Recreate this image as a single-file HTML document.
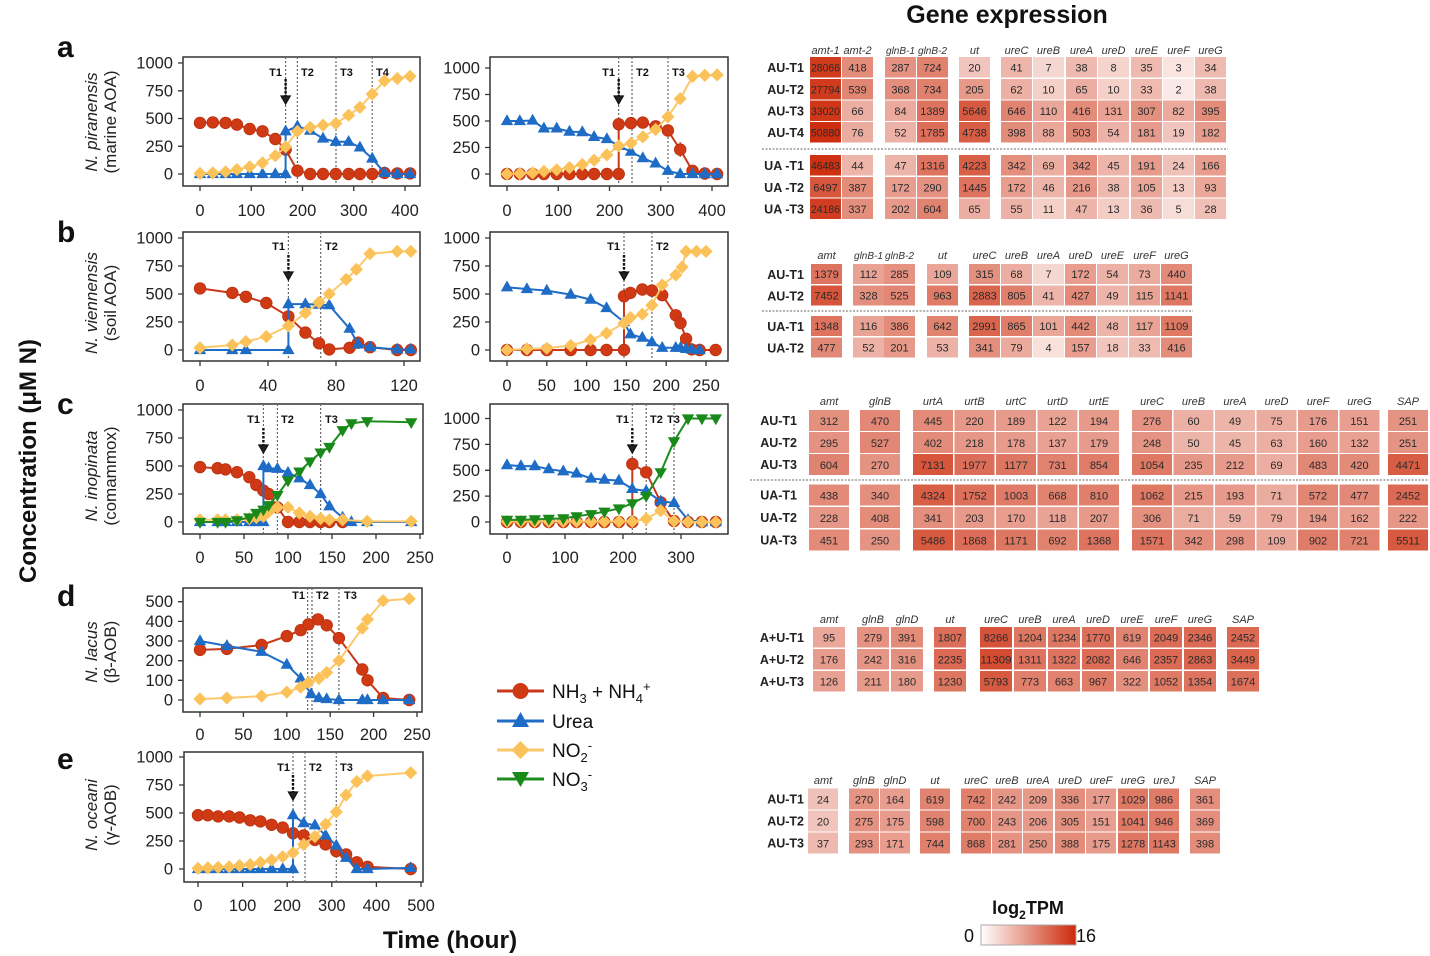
<!DOCTYPE html>
<html><head><meta charset="utf-8"><style>
html,body{margin:0;padding:0;background:#fff}
svg{display:block}
text{font-family:"Liberation Sans",Arial,sans-serif}
.tk{font-size:16.5px;fill:#222}
.te{text-anchor:end}
.tm{text-anchor:middle}
.box{fill:none;stroke:#333;stroke-width:1.5}
.tick{stroke:#333;stroke-width:1.3;fill:none}
.vl{stroke:#666;stroke-width:1.2;stroke-dasharray:2 2}
.tl{font-size:11px;font-weight:bold;fill:#111}
.sp{font-size:17px;fill:#222}
.r{fill:none;stroke:#c9381a;stroke-width:2;marker-start:url(#mr);marker-mid:url(#mr);marker-end:url(#mr)}
.b{fill:none;stroke:#1f6dc6;stroke-width:2;marker-start:url(#mb);marker-mid:url(#mb);marker-end:url(#mb)}
.y{fill:none;stroke:#fdc86a;stroke-width:2;marker-start:url(#my);marker-mid:url(#my);marker-end:url(#my)}
.g{fill:none;stroke:#1e8c1e;stroke-width:2;marker-start:url(#mg);marker-mid:url(#mg);marker-end:url(#mg)}
.ash{stroke:#111;stroke-width:2.4;stroke-dasharray:2.5 1.5}
.ahd{fill:#222;stroke:#111;stroke-width:1.2}
.c{fill:#cc2a0a}
.v{font-size:11px;fill:#2b2b2b;text-anchor:middle}
.h{font-size:11px;font-style:italic;fill:#333;text-anchor:middle}
.rl{font-size:12.5px;font-weight:bold;fill:#222;text-anchor:end}
.dsh{stroke:#9a9a9a;stroke-width:1.5;stroke-dasharray:2 1.5}
.pl{font-size:30px;font-weight:bold;fill:#111}
</style></head><body>
<svg width="1430" height="956" viewBox="0 0 1430 956" xmlns="http://www.w3.org/2000/svg">
<defs>
<marker id="mr" viewBox="0 0 12 12" markerUnits="userSpaceOnUse" markerWidth="12" markerHeight="12" refX="6" refY="6" overflow="visible"><circle cx="6" cy="6" r="5.8" fill="#cf3a14" stroke="#b8300f" stroke-width=".8"/></marker>
<marker id="mb" viewBox="0 0 12 12" markerUnits="userSpaceOnUse" markerWidth="12" markerHeight="12" refX="6" refY="6.5" overflow="visible"><path d="M6 -0.3L12.2 10.6H-0.2Z" fill="#1f6cc6"/></marker>
<marker id="my" viewBox="0 0 12 12" markerUnits="userSpaceOnUse" markerWidth="12" markerHeight="12" refX="6" refY="6" overflow="visible"><path d="M6 -0.6L12.6 6L6 12.6L-0.6 6Z" fill="#fcc25a"/></marker>
<marker id="mg" viewBox="0 0 12 12" markerUnits="userSpaceOnUse" markerWidth="12" markerHeight="12" refX="6" refY="5.5" overflow="visible"><path d="M-0.2 1.4H12.2L6 12.2Z" fill="#198a1a"/></marker>
<linearGradient id="cb" x1="0" x2="1" y1="0" y2="0"><stop offset="0" stop-color="#ffffff"/><stop offset="1" stop-color="#cc2a0a"/></linearGradient>
</defs>
<rect width="1430" height="956" fill="#fff"/>

<!-- Global labels -->
<text x="1007" y="23" class="tm" style="font-size:25px;font-weight:bold;fill:#111">Gene expression</text>
<text transform="translate(36,461) rotate(-90)" class="tm" style="font-size:24px;font-weight:bold;fill:#111">Concentration (μM N)</text>
<text x="450" y="948" class="tm" style="font-size:24.5px;font-weight:bold;fill:#111">Time (hour)</text>

<!-- Panel letters -->
<text x="57" y="57" class="pl">a</text>
<text x="57" y="242" class="pl">b</text>
<text x="57" y="414" class="pl">c</text>
<text x="57" y="606" class="pl">d</text>
<text x="57" y="769" class="pl">e</text>

<!-- species labels -->
<g class="sp">
<text transform="translate(97,122) rotate(-90)" class="tm"><tspan font-style="italic">N. piranensis</tspan></text>
<text transform="translate(116,122) rotate(-90)" class="tm">(marine AOA)</text>
<text transform="translate(97,303) rotate(-90)" class="tm"><tspan font-style="italic">N. viennensis</tspan></text>
<text transform="translate(116,303) rotate(-90)" class="tm">(soil AOA)</text>
<text transform="translate(97,476) rotate(-90)" class="tm"><tspan font-style="italic">N. inopinata</tspan></text>
<text transform="translate(116,476) rotate(-90)" class="tm">(comammox)</text>
<text transform="translate(97,652) rotate(-90)" class="tm"><tspan font-style="italic">N. lacus</tspan></text>
<text transform="translate(116,652) rotate(-90)" class="tm">(β-AOB)</text>
<text transform="translate(97,815) rotate(-90)" class="tm"><tspan font-style="italic">N. oceani</tspan></text>
<text transform="translate(116,815) rotate(-90)" class="tm">(γ-AOB)</text>
</g>

<!-- ===== a left ===== -->
<rect class="box" x="183" y="57" width="237" height="129"/>
<path class="tick" d="M178 63H183M178 90.8H183M178 118.5H183M178 146.3H183M178 174H183M200 186V191M251.25 186V191M302.5 186V191M353.75 186V191M405 186V191"/>
<g class="tk te"><text x="173" y="68.5">1000</text><text x="173" y="96.3">750</text><text x="173" y="124">500</text><text x="173" y="151.8">250</text><text x="173" y="179.5">0</text></g>
<g class="tk tm"><text x="200" y="216">0</text><text x="251.25" y="216">100</text><text x="302.5" y="216">200</text><text x="353.75" y="216">300</text><text x="405" y="216">400</text></g>
<path class="vl" d="M285.6 57V186M297.4 57V186M336 57V186M372.2 57V186"/>
<text class="tl te" x="282" y="76">T1</text><text class="tl" x="301" y="76">T2</text><text class="tl" x="340" y="76">T3</text><text class="tl" x="376" y="76">T4</text>
<polyline class="r" points="200,122.9 212.8,122.4 225.6,122.9 236.9,124.6 249.7,129 262.5,131.3 275.3,139 285.6,149.6 297.4,170.7 310.2,174 323,174 335.8,174 348.6,174 359.9,174 372.2,174 384.5,172.9 397.3,173.4 410.1,173.4"/>
<polyline class="b" points="200,174 212.8,174 225.6,174 236.9,174 249.7,174 262.5,174 275.3,174 285.6,174 285.6,131.3 297.4,126.3 310.2,130.7 323,138.5 335.8,141.8 348.6,141.8 359.9,147.4 372.2,158.5 384.5,172.9 397.3,174 410.1,174"/>
<polyline class="y" points="200,173.4 212.8,172.9 225.6,171.8 236.9,169.6 249.7,166.8 262.5,162.9 275.3,155.7 285.6,146.8 297.4,131.3 310.2,127.4 323,125.2 335.8,123.5 348.6,115.2 359.9,107.4 372.2,94.1 384.5,80.8 397.3,78.5 410.1,76.3"/>
<line class="ash" x1="285.6" y1="79" x2="285.6" y2="96"/><path class="ahd" d="M281 96H290.2L285.6 104Z"/>

<!-- ===== a right ===== -->
<rect class="box" x="490" y="57" width="238" height="129"/>
<path class="tick" d="M485 68H490M485 94.5H490M485 121H490M485 147.5H490M485 174H490M507 186V191M558.25 186V191M609.5 186V191M660.75 186V191M712 186V191"/>
<g class="tk te"><text x="480" y="73.5">1000</text><text x="480" y="100">750</text><text x="480" y="126.5">500</text><text x="480" y="153">250</text><text x="480" y="179.5">0</text></g>
<g class="tk tm"><text x="507" y="216">0</text><text x="558.25" y="216">100</text><text x="609.5" y="216">200</text><text x="660.75" y="216">300</text><text x="712" y="216">400</text></g>
<path class="vl" d="M618.7 57V186M632 57V186M668 57V186"/>
<text class="tl te" x="615" y="76">T1</text><text class="tl" x="636" y="76">T2</text><text class="tl" x="672" y="76">T3</text>
<path d="M680.2 142V157M692.5 70V82" stroke="#c9381a" stroke-width="1.2"/>
<polyline class="r" points="507,174 519.8,174 532.6,174 543.9,174 556.7,174 569.5,174 582.3,174 594.1,174 606.9,174 618.7,174 618.7,124.2 631,123.1 642.8,122.6 655.6,126.3 667.9,130.5 680.2,149.6 692.5,170.8 704.8,173.5 717.1,174"/>
<polyline class="b" points="507,121 519.8,121 532.6,120.5 543.9,128.4 556.7,128.4 569.5,131.6 582.3,132.1 594.1,136.9 606.9,139 618.7,145.9 631,151.7 642.8,158.1 655.6,163.4 667.9,170.8 680.2,174 692.5,174 704.8,174 717.1,174"/>
<polyline class="y" points="507,174 519.8,173.5 532.6,172.9 543.9,171.4 556.7,169.8 569.5,167.6 582.3,164.5 594.1,160.2 606.9,154.9 618.7,145.9 631,143.3 642.8,136.9 655.6,129.5 667.9,116.8 680.2,98.7 692.5,76.5 704.8,75.4 717.1,74.9"/>
<line class="ash" x1="618.7" y1="79" x2="618.7" y2="96"/><path class="ahd" d="M614.1 96H623.3L618.7 104Z"/>

<!-- ===== b left ===== -->
<rect class="box" x="183" y="232" width="237" height="129"/>
<path class="tick" d="M178 238H183M178 266H183M178 294H183M178 322H183M178 350H183M200 361V366M268 361V366M336 361V366M404 361V366"/>
<g class="tk te"><text x="173" y="243.5">1000</text><text x="173" y="271.5">750</text><text x="173" y="299.5">500</text><text x="173" y="327.5">250</text><text x="173" y="355.5">0</text></g>
<g class="tk tm"><text x="200" y="391">0</text><text x="268" y="391">40</text><text x="336" y="391">80</text><text x="404" y="391">120</text></g>
<path class="vl" d="M288.4 232V361M320.7 232V361"/>
<text class="tl te" x="285" y="250">T1</text><text class="tl" x="325" y="250">T2</text>
<polyline class="r" points="200,288.4 232.3,292.9 245.9,296.8 266.3,303 288.4,316.4 305.4,332.6 319,343.3 329.2,349.4 349.6,347.8 358.1,342.7 370,347.2 397.2,350 410.8,350"/>
<polyline class="b" points="200,350 232.3,350 245.9,350 288.4,350 288.4,304.1 305.4,304.1 319,304.6 329.2,305.2 349.6,328.7 358.1,344.4 370,347.2 397.2,349.4 410.8,349.4"/>
<polyline class="y" points="200,347.8 232.3,345 245.9,341.6 266.3,336.6 288.4,325.9 305.4,313 319,302.4 329.2,294 346.2,279.4 356.4,269.4 370,253.7 397.2,251.4 410.8,251.4"/>
<line class="ash" x1="288.4" y1="255" x2="288.4" y2="272"/><path class="ahd" d="M283.8 272H293L288.4 280Z"/>

<!-- ===== b right ===== -->
<rect class="box" x="490" y="232" width="238" height="129"/>
<path class="tick" d="M485 238H490M485 266H490M485 294H490M485 322H490M485 350H490M507 361V366M546.8 361V366M586.6 361V366M626.4 361V366M666.2 361V366M706 361V366"/>
<g class="tk te"><text x="480" y="243.5">1000</text><text x="480" y="271.5">750</text><text x="480" y="299.5">500</text><text x="480" y="327.5">250</text><text x="480" y="355.5">0</text></g>
<g class="tk tm"><text x="507" y="391">0</text><text x="546.8" y="391">50</text><text x="586.6" y="391">100</text><text x="626.4" y="391">150</text><text x="666.2" y="391">200</text><text x="706" y="391">250</text></g>
<path class="vl" d="M624 232V361M651.9 232V361"/>
<text class="tl te" x="620" y="250">T1</text><text class="tl" x="656" y="250">T2</text>
<polyline class="r" points="507,350 526.9,350 546.8,350 570.7,350 590.6,350 606.5,350 624,350 624,296.2 630.4,292.9 642.3,289.5 651.9,290.6 662.2,295.1 675.8,315.3 680.5,323.1 686.1,338.8 691.7,349.4 699.6,350 715.6,350"/>
<polyline class="b" points="507,287.3 526.9,289 546.8,290.6 570.7,294.6 590.6,299.6 606.5,308 624,322 630.4,334.3 642.3,337.7 651.9,342.2 662.2,347.8 675.8,347.8 680.5,347.8 686.1,348.9 691.7,349.4 699.6,350"/>
<polyline class="y" points="507,350 526.9,348.9 546.8,348.3 570.7,345.5 590.6,339.9 606.5,333.2 624,323.1 630.4,317.5 642.3,314.2 651.9,305.2 662.2,285 675.8,275 682.1,267.1 686.1,251.4 696.4,251.4 706,251.4"/>
<line class="ash" x1="624" y1="255" x2="624" y2="272"/><path class="ahd" d="M619.4 272H628.6L624 280Z"/>

<!-- ===== c left ===== -->
<rect class="box" x="183" y="404" width="240" height="130"/>
<path class="tick" d="M178 410H183M178 438H183M178 466H183M178 494H183M178 522H183M200 534V539M244 534V539M288 534V539M332 534V539M376 534V539M420 534V539"/>
<g class="tk te"><text x="173" y="415.5">1000</text><text x="173" y="443.5">750</text><text x="173" y="471.5">500</text><text x="173" y="499.5">250</text><text x="173" y="527.5">0</text></g>
<g class="tk tm"><text x="200" y="563">0</text><text x="244" y="563">50</text><text x="288" y="563">100</text><text x="332" y="563">150</text><text x="376" y="563">200</text><text x="420" y="563">250</text></g>
<path class="vl" d="M263.4 404V534M277.4 404V534M320.6 404V534"/>
<text class="tl te" x="260" y="423">T1</text><text class="tl" x="281" y="423">T2</text><text class="tl" x="325" y="423">T3</text>
<polyline class="r" points="200,467.1 217.6,468.2 225.5,469.4 237,472.2 249.3,477.2 256.3,485 263.4,490.6 268.6,494 277.4,507.4 288,522 299.4,522 310,522 320.6,522 329.4,522 342.6,522"/>
<polyline class="b" points="200,522 217.6,522 225.5,522 237,522 249.3,522 256.3,522 263.4,522 263.4,466 268.6,468.2 277.4,468.8 288,472.7 299.4,478.3 310,485 320.6,494 329.4,506.3 342.6,517.5 351.4,522 367.2,522 411.2,522"/>
<polyline class="y" points="200,519.8 217.6,519.8 225.5,519.8 237,519.8 249.3,518.6 256.3,517.5 263.4,516.4 268.6,511.9 277.4,507.4 288,507.4 299.4,513 310,516.4 320.6,518.6 329.4,519.8 342.6,519.8 367.2,521.4 411.2,521.4"/>
<polyline class="g" points="200,522 217.6,522 225.5,522 237,520.3 249.3,517.5 256.3,513 263.4,509.7 268.6,505.2 277.4,495.1 288,480.6 299.4,471.6 310,461.5 320.6,452.6 329.4,447 342.6,430.2 351.4,423.4 367.2,421.2 411.2,422.3"/>
<line class="ash" x1="263.4" y1="428" x2="263.4" y2="445"/><path class="ahd" d="M258.8 445H268L263.4 453Z"/>

<!-- ===== c right ===== -->
<rect class="box" x="490" y="404" width="238" height="130"/>
<path class="tick" d="M485 418.5H490M485 444.4H490M485 470.3H490M485 496.1H490M485 522H490M507 534V539M565 534V539M623 534V539M681 534V539"/>
<g class="tk te"><text x="480" y="424">1000</text><text x="480" y="449.9">750</text><text x="480" y="475.8">500</text><text x="480" y="501.6">250</text><text x="480" y="527.5">0</text></g>
<g class="tk tm"><text x="507" y="563">0</text><text x="565" y="563">100</text><text x="623" y="563">200</text><text x="681" y="563">300</text></g>
<path class="vl" d="M632.3 404V534M646.2 404V534M674 404V534"/>
<text class="tl te" x="629" y="423">T1</text><text class="tl" x="650" y="423">T2</text><text class="tl" x="667" y="423">T3</text>
<polyline class="r" points="507,522 520.9,522 534.8,522 548.8,522 563.3,522 576.6,522 591.1,522 604.4,522 618.9,522 632.3,522 632.3,464 646.2,472.3 660.7,502.3 674,521 688,522 701.9,522 715.8,522"/>
<polyline class="b" points="507,465.1 520.9,466.1 534.8,466.1 548.8,469.2 563.3,471.3 576.6,473.4 591.1,478.5 604.4,479.6 618.9,480.6 632.3,488.9 646.2,491 660.7,501.3 674,502.9 688,519.9 701.9,522 715.8,522"/>
<polyline class="y" points="507,521.5 520.9,521.5 534.8,521.5 548.8,521.5 563.3,521.5 576.6,521.5 591.1,521.5 604.4,521.5 618.9,521.5 632.3,521.5 646.2,518.9 660.7,510.6 674,521 688,522 701.9,522 715.8,522"/>
<polyline class="g" points="507,519.9 520.9,519.9 534.8,519.4 548.8,518.9 563.3,518.4 576.6,516.3 591.1,514.2 604.4,511.7 618.9,508.5 632.3,503.4 646.2,496.1 660.7,472.3 674,441.3 688,418.5 701.9,418.5 715.8,418.5"/>
<line class="ash" x1="632.3" y1="428" x2="632.3" y2="445"/><path class="ahd" d="M627.7 445H636.9L632.3 453Z"/>

<!-- ===== d ===== -->
<rect class="box" x="183" y="588" width="239" height="124"/>
<path class="tick" d="M178 601.7H183M178 621.4H183M178 641H183M178 660.7H183M178 680.3H183M178 700H183M200 712V717M243.4 712V717M286.8 712V717M330.2 712V717M373.6 712V717M417 712V717"/>
<g class="tk te"><text x="173" y="607.2">500</text><text x="173" y="626.9">400</text><text x="173" y="646.5">300</text><text x="173" y="666.2">200</text><text x="173" y="685.8">100</text><text x="173" y="705.5">0</text></g>
<g class="tk tm"><text x="200" y="740">0</text><text x="243.4" y="740">50</text><text x="286.8" y="740">100</text><text x="330.2" y="740">150</text><text x="373.6" y="740">200</text><text x="417" y="740">250</text></g>
<path class="vl" d="M307.6 588V712M312 588V712M338.9 588V712"/>
<text class="tl te" x="305" y="599">T1</text><text class="tl" x="316" y="599">T2</text><text class="tl" x="344" y="599">T3</text>
<polyline class="r" points="200,649.9 226.9,648.9 261.6,645 286.8,636.1 300.7,630.2 308.5,624.3 318,619.4 326.7,625.3 338.9,638.1 362.3,669.5 367.5,680.3 383.1,698 409.2,700"/>
<polyline class="b" points="200,641 226.9,645.9 261.6,651.8 286.8,664.6 300.7,678.4 311.1,694.1 318.9,698 326.7,699 338.9,700 362.3,700 367.5,700 383.1,700 409.2,700"/>
<polyline class="y" points="200,699 226.9,698 261.6,696.1 286.8,692.1 300.7,687.2 308.5,682.3 318.9,678.4 326.7,672.5 338.9,660.7 362.3,628.2 367.5,619.4 383.1,600.7 409.2,598.8"/>

<!-- ===== e ===== -->
<rect class="box" x="184" y="752" width="239" height="130"/>
<path class="tick" d="M179 757H184M179 785H184M179 813H184M179 841H184M179 869H184M198 882V887M242.6 882V887M287.2 882V887M331.8 882V887M376.4 882V887M421 882V887"/>
<g class="tk te"><text x="173" y="762.5">1000</text><text x="173" y="790.5">750</text><text x="173" y="818.5">500</text><text x="173" y="846.5">250</text><text x="173" y="874.5">0</text></g>
<g class="tk tm"><text x="198" y="911">0</text><text x="242.6" y="911">100</text><text x="287.2" y="911">200</text><text x="331.8" y="911">300</text><text x="376.4" y="911">400</text><text x="421" y="911">500</text></g>
<path class="vl" d="M293 752V882M305 752V882M336.3 752V882"/>
<text class="tl te" x="290" y="771">T1</text><text class="tl" x="309" y="771">T2</text><text class="tl" x="340" y="771">T3</text>
<polyline class="r" points="198,815.2 207.8,815.2 218.1,816.4 229.2,816.4 239.5,817.5 250.2,820.3 260.4,821.4 271.6,824.8 282.7,827.6 293,833.2 303.7,835.4 314.9,839.9 325.6,844.4 336.3,851.1 346.1,854.4 356.8,862.3 367.5,866.8 410.7,869"/>
<polyline class="b" points="198,869 207.8,869 218.1,869 229.2,869 239.5,869 250.2,869 260.4,869 271.6,869 282.7,869 293,869 293,815.2 303.7,823.1 314.9,825.3 325.6,835.4 336.3,845.5 346.1,857.8 356.8,869 367.5,869 410.7,867.9"/>
<polyline class="y" points="198,868.4 207.8,867.9 218.1,867.3 229.2,866.8 239.5,865.6 250.2,864.5 260.4,862.3 271.6,860 282.7,856.7 293,852.8 303.7,844.4 314.9,836.5 325.6,824.2 336.3,811.9 346.1,795.1 356.8,781.6 367.5,776 410.7,772.7"/>
<line class="ash" x1="293" y1="775" x2="293" y2="792"/><path class="ahd" d="M288.4 792H297.6L293 800Z"/>

<!-- ===== Legend ===== -->
<g style="font-size:19px;fill:#111">
<line x1="497" y1="691" x2="544" y2="691" stroke="#c9381a" stroke-width="3"/><circle cx="520.5" cy="691" r="8" fill="#cf3a14"/>
<text x="552" y="698">NH<tspan dy="5" font-size="13">3</tspan><tspan dy="-5"> + NH</tspan><tspan dy="5" font-size="13">4</tspan><tspan dy="-12" font-size="13">+</tspan></text>
<line x1="497" y1="721" x2="544" y2="721" stroke="#1f6dc6" stroke-width="3"/><path d="M520.5 712L529 727H512Z" fill="#1f6cc6"/>
<text x="552" y="728">Urea</text>
<line x1="497" y1="750" x2="544" y2="750" stroke="#fdc86a" stroke-width="3"/><path d="M520.5 741L529.5 750L520.5 759L511.5 750Z" fill="#fcc25a"/>
<text x="552" y="757">NO<tspan dy="5" font-size="13">2</tspan><tspan dy="-12" font-size="13">-</tspan></text>
<line x1="497" y1="779" x2="544" y2="779" stroke="#1e8c1e" stroke-width="3"/><path d="M512 772H529L520.5 787Z" fill="#198a1a"/>
<text x="552" y="786">NO<tspan dy="5" font-size="13">3</tspan><tspan dy="-12" font-size="13">-</tspan></text>
</g>

<!-- ===== Heatmap a ===== -->
<g class="h">
<text x="825.5" y="54">amt-1</text><text x="857.5" y="54">amt-2</text><text x="900.5" y="54" font-size="10" textLength="29" lengthAdjust="spacingAndGlyphs">glnB-1</text><text x="932.5" y="54" font-size="10" textLength="29" lengthAdjust="spacingAndGlyphs">glnB-2</text><text x="974.5" y="54">ut</text><text x="1016.5" y="54">ureC</text><text x="1048.5" y="54">ureB</text><text x="1081.5" y="54">ureA</text><text x="1113.5" y="54">ureD</text><text x="1146.5" y="54">ureE</text><text x="1178.5" y="54">ureF</text><text x="1210.5" y="54">ureG</text>
</g>
<g class="rl"><text x="804" y="72">AU-T1</text><text x="804" y="94">AU-T2</text><text x="804" y="115.5">AU-T3</text><text x="804" y="137">AU-T4</text><text x="804" y="170">UA -T1</text><text x="804" y="192">UA -T2</text><text x="804" y="213.5">UA -T3</text></g>
<line class="dsh" x1="762" y1="149" x2="1228" y2="149"/>
<g transform="translate(0,57)">
<rect class="c" x="810" width="31" height="20.5" fill-opacity=".92"/><rect class="c" x="842" width="31" height="20.5" fill-opacity=".54"/><rect class="c" x="885" width="31" height="20.5" fill-opacity=".51"/><rect class="c" x="917" width="31" height="20.5" fill-opacity=".59"/><rect class="c" x="959" width="31" height="20.5" fill-opacity=".27"/><rect class="c" x="1001" width="31" height="20.5" fill-opacity=".34"/><rect class="c" x="1033" width="31" height="20.5" fill-opacity=".19"/><rect class="c" x="1066" width="31" height="20.5" fill-opacity=".33"/><rect class="c" x="1098" width="31" height="20.5" fill-opacity=".2"/><rect class="c" x="1131" width="31" height="20.5" fill-opacity=".32"/><rect class="c" x="1163" width="31" height="20.5" fill-opacity=".125"/><rect class="c" x="1195" width="31" height="20.5" fill-opacity=".32"/>
<g class="v"><text x="825.5" y="14.5" textLength="29" lengthAdjust="spacingAndGlyphs">28066</text><text x="857.5" y="14.5">418</text><text x="900.5" y="14.5">287</text><text x="932.5" y="14.5">724</text><text x="974.5" y="14.5">20</text><text x="1016.5" y="14.5">41</text><text x="1048.5" y="14.5">7</text><text x="1081.5" y="14.5">38</text><text x="1113.5" y="14.5">8</text><text x="1146.5" y="14.5">35</text><text x="1178.5" y="14.5">3</text><text x="1210.5" y="14.5">34</text></g>
</g>
<g transform="translate(0,79)">
<rect class="c" x="810" width="31" height="20.5" fill-opacity=".92"/><rect class="c" x="842" width="31" height="20.5" fill-opacity=".57"/><rect class="c" x="885" width="31" height="20.5" fill-opacity=".53"/><rect class="c" x="917" width="31" height="20.5" fill-opacity=".595"/><rect class="c" x="959" width="31" height="20.5" fill-opacity=".48"/><rect class="c" x="1001" width="31" height="20.5" fill-opacity=".37"/><rect class="c" x="1033" width="31" height="20.5" fill-opacity=".22"/><rect class="c" x="1066" width="31" height="20.5" fill-opacity=".38"/><rect class="c" x="1098" width="31" height="20.5" fill-opacity=".22"/><rect class="c" x="1131" width="31" height="20.5" fill-opacity=".32"/><rect class="c" x="1163" width="31" height="20.5" fill-opacity=".1"/><rect class="c" x="1195" width="31" height="20.5" fill-opacity=".33"/>
<g class="v"><text x="825.5" y="14.5" textLength="29" lengthAdjust="spacingAndGlyphs">27794</text><text x="857.5" y="14.5">539</text><text x="900.5" y="14.5">368</text><text x="932.5" y="14.5">734</text><text x="974.5" y="14.5">205</text><text x="1016.5" y="14.5">62</text><text x="1048.5" y="14.5">10</text><text x="1081.5" y="14.5">65</text><text x="1113.5" y="14.5">10</text><text x="1146.5" y="14.5">33</text><text x="1178.5" y="14.5">2</text><text x="1210.5" y="14.5">38</text></g>
</g>
<g transform="translate(0,100.5)">
<rect class="c" x="810" width="31" height="20.5" fill-opacity=".94"/><rect class="c" x="842" width="31" height="20.5" fill-opacity=".38"/><rect class="c" x="885" width="31" height="20.5" fill-opacity=".4"/><rect class="c" x="917" width="31" height="20.5" fill-opacity=".65"/><rect class="c" x="959" width="31" height="20.5" fill-opacity=".78"/><rect class="c" x="1001" width="31" height="20.5" fill-opacity=".58"/><rect class="c" x="1033" width="31" height="20.5" fill-opacity=".42"/><rect class="c" x="1066" width="31" height="20.5" fill-opacity=".54"/><rect class="c" x="1098" width="31" height="20.5" fill-opacity=".44"/><rect class="c" x="1131" width="31" height="20.5" fill-opacity=".52"/><rect class="c" x="1163" width="31" height="20.5" fill-opacity=".4"/><rect class="c" x="1195" width="31" height="20.5" fill-opacity=".54"/>
<g class="v"><text x="825.5" y="14.5" textLength="29" lengthAdjust="spacingAndGlyphs">33020</text><text x="857.5" y="14.5">66</text><text x="900.5" y="14.5">84</text><text x="932.5" y="14.5">1389</text><text x="974.5" y="14.5">5646</text><text x="1016.5" y="14.5">646</text><text x="1048.5" y="14.5">110</text><text x="1081.5" y="14.5">416</text><text x="1113.5" y="14.5">131</text><text x="1146.5" y="14.5">307</text><text x="1178.5" y="14.5">82</text><text x="1210.5" y="14.5">395</text></g>
</g>
<g transform="translate(0,122)">
<rect class="c" x="810" width="31" height="20.5" fill-opacity=".98"/><rect class="c" x="842" width="31" height="20.5" fill-opacity=".39"/><rect class="c" x="885" width="31" height="20.5" fill-opacity=".36"/><rect class="c" x="917" width="31" height="20.5" fill-opacity=".675"/><rect class="c" x="959" width="31" height="20.5" fill-opacity=".76"/><rect class="c" x="1001" width="31" height="20.5" fill-opacity=".54"/><rect class="c" x="1033" width="31" height="20.5" fill-opacity=".41"/><rect class="c" x="1066" width="31" height="20.5" fill-opacity=".56"/><rect class="c" x="1098" width="31" height="20.5" fill-opacity=".36"/><rect class="c" x="1131" width="31" height="20.5" fill-opacity=".47"/><rect class="c" x="1163" width="31" height="20.5" fill-opacity=".27"/><rect class="c" x="1195" width="31" height="20.5" fill-opacity=".47"/>
<g class="v"><text x="825.5" y="14.5" textLength="29" lengthAdjust="spacingAndGlyphs">50880</text><text x="857.5" y="14.5">76</text><text x="900.5" y="14.5">52</text><text x="932.5" y="14.5">1785</text><text x="974.5" y="14.5">4738</text><text x="1016.5" y="14.5">398</text><text x="1048.5" y="14.5">88</text><text x="1081.5" y="14.5">503</text><text x="1113.5" y="14.5">54</text><text x="1146.5" y="14.5">181</text><text x="1178.5" y="14.5">19</text><text x="1210.5" y="14.5">182</text></g>
</g>
<g transform="translate(0,155)">
<rect class="c" x="810" width="31" height="20.5" fill-opacity=".97"/><rect class="c" x="842" width="31" height="20.5" fill-opacity=".34"/><rect class="c" x="885" width="31" height="20.5" fill-opacity=".35"/><rect class="c" x="917" width="31" height="20.5" fill-opacity=".65"/><rect class="c" x="959" width="31" height="20.5" fill-opacity=".75"/><rect class="c" x="1001" width="31" height="20.5" fill-opacity=".53"/><rect class="c" x="1033" width="31" height="20.5" fill-opacity=".38"/><rect class="c" x="1066" width="31" height="20.5" fill-opacity=".53"/><rect class="c" x="1098" width="31" height="20.5" fill-opacity=".35"/><rect class="c" x="1131" width="31" height="20.5" fill-opacity=".47"/><rect class="c" x="1163" width="31" height="20.5" fill-opacity=".29"/><rect class="c" x="1195" width="31" height="20.5" fill-opacity=".46"/>
<g class="v"><text x="825.5" y="14.5" textLength="29" lengthAdjust="spacingAndGlyphs">46483</text><text x="857.5" y="14.5">44</text><text x="900.5" y="14.5">47</text><text x="932.5" y="14.5">1316</text><text x="974.5" y="14.5">4223</text><text x="1016.5" y="14.5">342</text><text x="1048.5" y="14.5">69</text><text x="1081.5" y="14.5">342</text><text x="1113.5" y="14.5">45</text><text x="1146.5" y="14.5">191</text><text x="1178.5" y="14.5">24</text><text x="1210.5" y="14.5">166</text></g>
</g>
<g transform="translate(0,177)">
<rect class="c" x="810" width="31" height="20.5" fill-opacity=".79"/><rect class="c" x="842" width="31" height="20.5" fill-opacity=".54"/><rect class="c" x="885" width="31" height="20.5" fill-opacity=".46"/><rect class="c" x="917" width="31" height="20.5" fill-opacity=".51"/><rect class="c" x="959" width="31" height="20.5" fill-opacity=".66"/><rect class="c" x="1001" width="31" height="20.5" fill-opacity=".46"/><rect class="c" x="1033" width="31" height="20.5" fill-opacity=".35"/><rect class="c" x="1066" width="31" height="20.5" fill-opacity=".485"/><rect class="c" x="1098" width="31" height="20.5" fill-opacity=".33"/><rect class="c" x="1131" width="31" height="20.5" fill-opacity=".42"/><rect class="c" x="1163" width="31" height="20.5" fill-opacity=".24"/><rect class="c" x="1195" width="31" height="20.5" fill-opacity=".41"/>
<g class="v"><text x="825.5" y="14.5">6497</text><text x="857.5" y="14.5">387</text><text x="900.5" y="14.5">172</text><text x="932.5" y="14.5">290</text><text x="974.5" y="14.5">1445</text><text x="1016.5" y="14.5">172</text><text x="1048.5" y="14.5">46</text><text x="1081.5" y="14.5">216</text><text x="1113.5" y="14.5">38</text><text x="1146.5" y="14.5">105</text><text x="1178.5" y="14.5">13</text><text x="1210.5" y="14.5">93</text></g>
</g>
<g transform="translate(0,198.5)">
<rect class="c" x="810" width="31" height="20.5" fill-opacity=".91"/><rect class="c" x="842" width="31" height="20.5" fill-opacity=".525"/><rect class="c" x="885" width="31" height="20.5" fill-opacity=".48"/><rect class="c" x="917" width="31" height="20.5" fill-opacity=".58"/><rect class="c" x="959" width="31" height="20.5" fill-opacity=".38"/><rect class="c" x="1001" width="31" height="20.5" fill-opacity=".36"/><rect class="c" x="1033" width="31" height="20.5" fill-opacity=".22"/><rect class="c" x="1066" width="31" height="20.5" fill-opacity=".35"/><rect class="c" x="1098" width="31" height="20.5" fill-opacity=".24"/><rect class="c" x="1131" width="31" height="20.5" fill-opacity=".33"/><rect class="c" x="1163" width="31" height="20.5" fill-opacity=".16"/><rect class="c" x="1195" width="31" height="20.5" fill-opacity=".3"/>
<g class="v"><text x="825.5" y="14.5" textLength="29" lengthAdjust="spacingAndGlyphs">24186</text><text x="857.5" y="14.5">337</text><text x="900.5" y="14.5">202</text><text x="932.5" y="14.5">604</text><text x="974.5" y="14.5">65</text><text x="1016.5" y="14.5">55</text><text x="1048.5" y="14.5">11</text><text x="1081.5" y="14.5">47</text><text x="1113.5" y="14.5">13</text><text x="1146.5" y="14.5">36</text><text x="1178.5" y="14.5">5</text><text x="1210.5" y="14.5">28</text></g>
</g>

<!-- ===== Heatmap b ===== -->
<g class="h">
<text x="826.5" y="259">amt</text><text x="868.5" y="259" font-size="10" textLength="29" lengthAdjust="spacingAndGlyphs">glnB-1</text><text x="899.5" y="259" font-size="10" textLength="29" lengthAdjust="spacingAndGlyphs">glnB-2</text><text x="942.5" y="259">ut</text><text x="984.5" y="259">ureC</text><text x="1016.5" y="259">ureB</text><text x="1048.5" y="259">ureA</text><text x="1080.5" y="259">ureD</text><text x="1112.5" y="259">ureE</text><text x="1144.5" y="259">ureF</text><text x="1176.5" y="259">ureG</text>
</g>
<g class="rl"><text x="804" y="279">AU-T1</text><text x="804" y="300.5">AU-T2</text><text x="804" y="331">UA-T1</text><text x="804" y="352.5">UA-T2</text></g>
<line class="dsh" x1="762" y1="311" x2="1193" y2="311"/>
<g transform="translate(0,264)">
<rect class="c" x="811" width="31" height="20" fill-opacity=".65"/><rect class="c" x="853" width="31" height="20" fill-opacity=".43"/><rect class="c" x="884" width="31" height="20" fill-opacity=".51"/><rect class="c" x="927" width="31" height="20" fill-opacity=".42"/><rect class="c" x="969" width="31" height="20" fill-opacity=".52"/><rect class="c" x="1001" width="31" height="20" fill-opacity=".38"/><rect class="c" x="1033" width="31" height="20" fill-opacity=".19"/><rect class="c" x="1065" width="31" height="20" fill-opacity=".46"/><rect class="c" x="1097" width="31" height="20" fill-opacity=".36"/><rect class="c" x="1129" width="31" height="20" fill-opacity=".39"/><rect class="c" x="1161" width="31" height="20" fill-opacity=".55"/>
<g class="v"><text x="826.5" y="14">1379</text><text x="868.5" y="14">112</text><text x="899.5" y="14">285</text><text x="942.5" y="14">109</text><text x="984.5" y="14">315</text><text x="1016.5" y="14">68</text><text x="1048.5" y="14">7</text><text x="1080.5" y="14">172</text><text x="1112.5" y="14">54</text><text x="1144.5" y="14">73</text><text x="1176.5" y="14">440</text></g>
</g>
<g transform="translate(0,285.5)">
<rect class="c" x="811" width="31" height="20" fill-opacity=".8"/><rect class="c" x="853" width="31" height="20" fill-opacity=".52"/><rect class="c" x="884" width="31" height="20" fill-opacity=".565"/><rect class="c" x="927" width="31" height="20" fill-opacity=".62"/><rect class="c" x="969" width="31" height="20" fill-opacity=".72"/><rect class="c" x="1001" width="31" height="20" fill-opacity=".6"/><rect class="c" x="1033" width="31" height="20" fill-opacity=".34"/><rect class="c" x="1065" width="31" height="20" fill-opacity=".55"/><rect class="c" x="1097" width="31" height="20" fill-opacity=".35"/><rect class="c" x="1129" width="31" height="20" fill-opacity=".43"/><rect class="c" x="1161" width="31" height="20" fill-opacity=".635"/>
<g class="v"><text x="826.5" y="14">7452</text><text x="868.5" y="14">328</text><text x="899.5" y="14">525</text><text x="942.5" y="14">963</text><text x="984.5" y="14">2883</text><text x="1016.5" y="14">805</text><text x="1048.5" y="14">41</text><text x="1080.5" y="14">427</text><text x="1112.5" y="14">49</text><text x="1144.5" y="14">115</text><text x="1176.5" y="14">1141</text></g>
</g>
<g transform="translate(0,316)">
<rect class="c" x="811" width="31" height="20" fill-opacity=".65"/><rect class="c" x="853" width="31" height="20" fill-opacity=".43"/><rect class="c" x="884" width="31" height="20" fill-opacity=".54"/><rect class="c" x="927" width="31" height="20" fill-opacity=".58"/><rect class="c" x="969" width="31" height="20" fill-opacity=".72"/><rect class="c" x="1001" width="31" height="20" fill-opacity=".61"/><rect class="c" x="1033" width="31" height="20" fill-opacity=".42"/><rect class="c" x="1065" width="31" height="20" fill-opacity=".55"/><rect class="c" x="1097" width="31" height="20" fill-opacity=".35"/><rect class="c" x="1129" width="31" height="20" fill-opacity=".43"/><rect class="c" x="1161" width="31" height="20" fill-opacity=".63"/>
<g class="v"><text x="826.5" y="14">1348</text><text x="868.5" y="14">116</text><text x="899.5" y="14">386</text><text x="942.5" y="14">642</text><text x="984.5" y="14">2991</text><text x="1016.5" y="14">865</text><text x="1048.5" y="14">101</text><text x="1080.5" y="14">442</text><text x="1112.5" y="14">48</text><text x="1144.5" y="14">117</text><text x="1176.5" y="14">1109</text></g>
</g>
<g transform="translate(0,337.5)">
<rect class="c" x="811" width="31" height="20" fill-opacity=".56"/><rect class="c" x="853" width="31" height="20" fill-opacity=".36"/><rect class="c" x="884" width="31" height="20" fill-opacity=".48"/><rect class="c" x="927" width="31" height="20" fill-opacity=".36"/><rect class="c" x="969" width="31" height="20" fill-opacity=".53"/><rect class="c" x="1001" width="31" height="20" fill-opacity=".4"/><rect class="c" x="1033" width="31" height="20" fill-opacity=".145"/><rect class="c" x="1065" width="31" height="20" fill-opacity=".46"/><rect class="c" x="1097" width="31" height="20" fill-opacity=".27"/><rect class="c" x="1129" width="31" height="20" fill-opacity=".32"/><rect class="c" x="1161" width="31" height="20" fill-opacity=".54"/>
<g class="v"><text x="826.5" y="14">477</text><text x="868.5" y="14">52</text><text x="899.5" y="14">201</text><text x="942.5" y="14">53</text><text x="984.5" y="14">341</text><text x="1016.5" y="14">79</text><text x="1048.5" y="14">4</text><text x="1080.5" y="14">157</text><text x="1112.5" y="14">18</text><text x="1144.5" y="14">33</text><text x="1176.5" y="14">416</text></g>
</g>

<!-- ===== Heatmap c ===== -->
<g class="h">
<text x="829" y="405">amt</text><text x="880" y="405">glnB</text><text x="933" y="405">urtA</text><text x="974.5" y="405">urtB</text><text x="1016" y="405">urtC</text><text x="1057.5" y="405">urtD</text><text x="1099" y="405">urtE</text><text x="1152" y="405">ureC</text><text x="1193.5" y="405">ureB</text><text x="1235" y="405">ureA</text><text x="1276.5" y="405">ureD</text><text x="1318" y="405">ureF</text><text x="1359.5" y="405">ureG</text><text x="1408" y="405">SAP</text>
</g>
<g class="rl"><text x="797" y="425">AU-T1</text><text x="797" y="447">AU-T2</text><text x="797" y="469">AU-T3</text><text x="797" y="499.5">UA-T1</text><text x="797" y="522">UA-T2</text><text x="797" y="544.5">UA-T3</text></g>
<line class="dsh" x1="750" y1="480" x2="1428" y2="480"/>
<g transform="translate(0,410)">
<rect class="c" x="809" width="40" height="21" fill-opacity=".52"/><rect class="c" x="860" width="40" height="21" fill-opacity=".555"/><rect class="c" x="913" width="40" height="21" fill-opacity=".55"/><rect class="c" x="954.5" width="40" height="21" fill-opacity=".49"/><rect class="c" x="996" width="40" height="21" fill-opacity=".47"/><rect class="c" x="1037.5" width="40" height="21" fill-opacity=".43"/><rect class="c" x="1079" width="40" height="21" fill-opacity=".48"/><rect class="c" x="1132" width="40" height="21" fill-opacity=".51"/><rect class="c" x="1173.5" width="40" height="21" fill-opacity=".37"/><rect class="c" x="1215" width="40" height="21" fill-opacity=".35"/><rect class="c" x="1256.5" width="40" height="21" fill-opacity=".39"/><rect class="c" x="1298" width="40" height="21" fill-opacity=".47"/><rect class="c" x="1339.5" width="40" height="21" fill-opacity=".45"/><rect class="c" x="1388" width="40" height="21" fill-opacity=".5"/>
<g class="v"><text x="829" y="15">312</text><text x="880" y="15">470</text><text x="933" y="15">445</text><text x="974.5" y="15">220</text><text x="1016" y="15">189</text><text x="1057.5" y="15">122</text><text x="1099" y="15">194</text><text x="1152" y="15">276</text><text x="1193.5" y="15">60</text><text x="1235" y="15">49</text><text x="1276.5" y="15">75</text><text x="1318" y="15">176</text><text x="1359.5" y="15">151</text><text x="1408" y="15">251</text></g>
</g>
<g transform="translate(0,432)">
<rect class="c" x="809" width="40" height="21" fill-opacity=".51"/><rect class="c" x="860" width="40" height="21" fill-opacity=".565"/><rect class="c" x="913" width="40" height="21" fill-opacity=".54"/><rect class="c" x="954.5" width="40" height="21" fill-opacity=".49"/><rect class="c" x="996" width="40" height="21" fill-opacity=".47"/><rect class="c" x="1037.5" width="40" height="21" fill-opacity=".44"/><rect class="c" x="1079" width="40" height="21" fill-opacity=".47"/><rect class="c" x="1132" width="40" height="21" fill-opacity=".5"/><rect class="c" x="1173.5" width="40" height="21" fill-opacity=".35"/><rect class="c" x="1215" width="40" height="21" fill-opacity=".35"/><rect class="c" x="1256.5" width="40" height="21" fill-opacity=".375"/><rect class="c" x="1298" width="40" height="21" fill-opacity=".46"/><rect class="c" x="1339.5" width="40" height="21" fill-opacity=".44"/><rect class="c" x="1388" width="40" height="21" fill-opacity=".5"/>
<g class="v"><text x="829" y="15">295</text><text x="880" y="15">527</text><text x="933" y="15">402</text><text x="974.5" y="15">218</text><text x="1016" y="15">178</text><text x="1057.5" y="15">137</text><text x="1099" y="15">179</text><text x="1152" y="15">248</text><text x="1193.5" y="15">50</text><text x="1235" y="15">45</text><text x="1276.5" y="15">63</text><text x="1318" y="15">160</text><text x="1359.5" y="15">132</text><text x="1408" y="15">251</text></g>
</g>
<g transform="translate(0,454)">
<rect class="c" x="809" width="40" height="21" fill-opacity=".58"/><rect class="c" x="860" width="40" height="21" fill-opacity=".505"/><rect class="c" x="913" width="40" height="21" fill-opacity=".8"/><rect class="c" x="954.5" width="40" height="21" fill-opacity=".68"/><rect class="c" x="996" width="40" height="21" fill-opacity=".64"/><rect class="c" x="1037.5" width="40" height="21" fill-opacity=".59"/><rect class="c" x="1079" width="40" height="21" fill-opacity=".61"/><rect class="c" x="1132" width="40" height="21" fill-opacity=".63"/><rect class="c" x="1173.5" width="40" height="21" fill-opacity=".49"/><rect class="c" x="1215" width="40" height="21" fill-opacity=".48"/><rect class="c" x="1256.5" width="40" height="21" fill-opacity=".38"/><rect class="c" x="1298" width="40" height="21" fill-opacity=".56"/><rect class="c" x="1339.5" width="40" height="21" fill-opacity=".545"/><rect class="c" x="1388" width="40" height="21" fill-opacity=".76"/>
<g class="v"><text x="829" y="15">604</text><text x="880" y="15">270</text><text x="933" y="15">7131</text><text x="974.5" y="15">1977</text><text x="1016" y="15">1177</text><text x="1057.5" y="15">731</text><text x="1099" y="15">854</text><text x="1152" y="15">1054</text><text x="1193.5" y="15">235</text><text x="1235" y="15">212</text><text x="1276.5" y="15">69</text><text x="1318" y="15">483</text><text x="1359.5" y="15">420</text><text x="1408" y="15">4471</text></g>
</g>
<g transform="translate(0,484.5)">
<rect class="c" x="809" width="40" height="21" fill-opacity=".55"/><rect class="c" x="860" width="40" height="21" fill-opacity=".53"/><rect class="c" x="913" width="40" height="21" fill-opacity=".755"/><rect class="c" x="954.5" width="40" height="21" fill-opacity=".67"/><rect class="c" x="996" width="40" height="21" fill-opacity=".62"/><rect class="c" x="1037.5" width="40" height="21" fill-opacity=".59"/><rect class="c" x="1079" width="40" height="21" fill-opacity=".6"/><rect class="c" x="1132" width="40" height="21" fill-opacity=".63"/><rect class="c" x="1173.5" width="40" height="21" fill-opacity=".485"/><rect class="c" x="1215" width="40" height="21" fill-opacity=".475"/><rect class="c" x="1256.5" width="40" height="21" fill-opacity=".39"/><rect class="c" x="1298" width="40" height="21" fill-opacity=".57"/><rect class="c" x="1339.5" width="40" height="21" fill-opacity=".56"/><rect class="c" x="1388" width="40" height="21" fill-opacity=".7"/>
<g class="v"><text x="829" y="15">438</text><text x="880" y="15">340</text><text x="933" y="15">4324</text><text x="974.5" y="15">1752</text><text x="1016" y="15">1003</text><text x="1057.5" y="15">668</text><text x="1099" y="15">810</text><text x="1152" y="15">1062</text><text x="1193.5" y="15">215</text><text x="1235" y="15">193</text><text x="1276.5" y="15">71</text><text x="1318" y="15">572</text><text x="1359.5" y="15">477</text><text x="1408" y="15">2452</text></g>
</g>
<g transform="translate(0,507)">
<rect class="c" x="809" width="40" height="21" fill-opacity=".49"/><rect class="c" x="860" width="40" height="21" fill-opacity=".54"/><rect class="c" x="913" width="40" height="21" fill-opacity=".53"/><rect class="c" x="954.5" width="40" height="21" fill-opacity=".48"/><rect class="c" x="996" width="40" height="21" fill-opacity=".46"/><rect class="c" x="1037.5" width="40" height="21" fill-opacity=".43"/><rect class="c" x="1079" width="40" height="21" fill-opacity=".48"/><rect class="c" x="1132" width="40" height="21" fill-opacity=".52"/><rect class="c" x="1173.5" width="40" height="21" fill-opacity=".39"/><rect class="c" x="1215" width="40" height="21" fill-opacity=".37"/><rect class="c" x="1256.5" width="40" height="21" fill-opacity=".4"/><rect class="c" x="1298" width="40" height="21" fill-opacity=".48"/><rect class="c" x="1339.5" width="40" height="21" fill-opacity=".46"/><rect class="c" x="1388" width="40" height="21" fill-opacity=".49"/>
<g class="v"><text x="829" y="15">228</text><text x="880" y="15">408</text><text x="933" y="15">341</text><text x="974.5" y="15">203</text><text x="1016" y="15">170</text><text x="1057.5" y="15">118</text><text x="1099" y="15">207</text><text x="1152" y="15">306</text><text x="1193.5" y="15">71</text><text x="1235" y="15">59</text><text x="1276.5" y="15">79</text><text x="1318" y="15">194</text><text x="1359.5" y="15">162</text><text x="1408" y="15">222</text></g>
</g>
<g transform="translate(0,529.5)">
<rect class="c" x="809" width="40" height="21" fill-opacity=".55"/><rect class="c" x="860" width="40" height="21" fill-opacity=".5"/><rect class="c" x="913" width="40" height="21" fill-opacity=".78"/><rect class="c" x="954.5" width="40" height="21" fill-opacity=".68"/><rect class="c" x="996" width="40" height="21" fill-opacity=".64"/><rect class="c" x="1037.5" width="40" height="21" fill-opacity=".59"/><rect class="c" x="1079" width="40" height="21" fill-opacity=".65"/><rect class="c" x="1132" width="40" height="21" fill-opacity=".66"/><rect class="c" x="1173.5" width="40" height="21" fill-opacity=".53"/><rect class="c" x="1215" width="40" height="21" fill-opacity=".51"/><rect class="c" x="1256.5" width="40" height="21" fill-opacity=".42"/><rect class="c" x="1298" width="40" height="21" fill-opacity=".61"/><rect class="c" x="1339.5" width="40" height="21" fill-opacity=".59"/><rect class="c" x="1388" width="40" height="21" fill-opacity=".78"/>
<g class="v"><text x="829" y="15">451</text><text x="880" y="15">250</text><text x="933" y="15">5486</text><text x="974.5" y="15">1868</text><text x="1016" y="15">1171</text><text x="1057.5" y="15">692</text><text x="1099" y="15">1368</text><text x="1152" y="15">1571</text><text x="1193.5" y="15">342</text><text x="1235" y="15">298</text><text x="1276.5" y="15">109</text><text x="1318" y="15">902</text><text x="1359.5" y="15">721</text><text x="1408" y="15">5511</text></g>
</g>

<!-- ===== Heatmap d ===== -->
<g class="h">
<text x="829" y="623">amt</text><text x="873" y="623">glnB</text><text x="907" y="623">glnD</text><text x="950" y="623">ut</text><text x="996" y="623">ureC</text><text x="1030" y="623">ureB</text><text x="1064" y="623">ureA</text><text x="1098" y="623">ureD</text><text x="1132" y="623">ureE</text><text x="1166" y="623">ureF</text><text x="1200" y="623">ureG</text><text x="1243" y="623">SAP</text>
</g>
<g class="rl"><text x="804" y="642">A+U-T1</text><text x="804" y="664">A+U-T2</text><text x="804" y="686">A+U-T3</text></g>
<g transform="translate(0,627)">
<rect class="c" x="813" width="32" height="20.5" fill-opacity=".41"/><rect class="c" x="857" width="32" height="20.5" fill-opacity=".51"/><rect class="c" x="891" width="32" height="20.5" fill-opacity=".54"/><rect class="c" x="934" width="32" height="20.5" fill-opacity=".68"/><rect class="c" x="980" width="32" height="20.5" fill-opacity=".81"/><rect class="c" x="1014" width="32" height="20.5" fill-opacity=".64"/><rect class="c" x="1048" width="32" height="20.5" fill-opacity=".64"/><rect class="c" x="1082" width="32" height="20.5" fill-opacity=".67"/><rect class="c" x="1116" width="32" height="20.5" fill-opacity=".58"/><rect class="c" x="1150" width="32" height="20.5" fill-opacity=".69"/><rect class="c" x="1184" width="32" height="20.5" fill-opacity=".7"/><rect class="c" x="1227" width="32" height="20.5" fill-opacity=".7"/>
<g class="v"><text x="829" y="14.5">95</text><text x="873" y="14.5">279</text><text x="907" y="14.5">391</text><text x="950" y="14.5">1807</text><text x="996" y="14.5">8266</text><text x="1030" y="14.5">1204</text><text x="1064" y="14.5">1234</text><text x="1098" y="14.5">1770</text><text x="1132" y="14.5">619</text><text x="1166" y="14.5">2049</text><text x="1200" y="14.5">2346</text><text x="1243" y="14.5">2452</text></g>
</g>
<g transform="translate(0,649)">
<rect class="c" x="813" width="32" height="20.5" fill-opacity=".47"/><rect class="c" x="857" width="32" height="20.5" fill-opacity=".495"/><rect class="c" x="891" width="32" height="20.5" fill-opacity=".52"/><rect class="c" x="934" width="32" height="20.5" fill-opacity=".7"/><rect class="c" x="980" width="32" height="20.5" fill-opacity=".84"/><rect class="c" x="1014" width="32" height="20.5" fill-opacity=".65"/><rect class="c" x="1048" width="32" height="20.5" fill-opacity=".65"/><rect class="c" x="1082" width="32" height="20.5" fill-opacity=".69"/><rect class="c" x="1116" width="32" height="20.5" fill-opacity=".58"/><rect class="c" x="1150" width="32" height="20.5" fill-opacity=".7"/><rect class="c" x="1184" width="32" height="20.5" fill-opacity=".72"/><rect class="c" x="1227" width="32" height="20.5" fill-opacity=".73"/>
<g class="v"><text x="829" y="14.5">176</text><text x="873" y="14.5">242</text><text x="907" y="14.5">316</text><text x="950" y="14.5">2235</text><text x="996" y="14.5" textLength="31" lengthAdjust="spacingAndGlyphs">11309</text><text x="1030" y="14.5">1311</text><text x="1064" y="14.5">1322</text><text x="1098" y="14.5">2082</text><text x="1132" y="14.5">646</text><text x="1166" y="14.5">2357</text><text x="1200" y="14.5">2863</text><text x="1243" y="14.5">3449</text></g>
</g>
<g transform="translate(0,671)">
<rect class="c" x="813" width="32" height="20.5" fill-opacity=".44"/><rect class="c" x="857" width="32" height="20.5" fill-opacity=".48"/><rect class="c" x="891" width="32" height="20.5" fill-opacity=".47"/><rect class="c" x="934" width="32" height="20.5" fill-opacity=".64"/><rect class="c" x="980" width="32" height="20.5" fill-opacity=".78"/><rect class="c" x="1014" width="32" height="20.5" fill-opacity=".6"/><rect class="c" x="1048" width="32" height="20.5" fill-opacity=".585"/><rect class="c" x="1082" width="32" height="20.5" fill-opacity=".62"/><rect class="c" x="1116" width="32" height="20.5" fill-opacity=".52"/><rect class="c" x="1150" width="32" height="20.5" fill-opacity=".63"/><rect class="c" x="1184" width="32" height="20.5" fill-opacity=".65"/><rect class="c" x="1227" width="32" height="20.5" fill-opacity=".67"/>
<g class="v"><text x="829" y="14.5">126</text><text x="873" y="14.5">211</text><text x="907" y="14.5">180</text><text x="950" y="14.5">1230</text><text x="996" y="14.5">5793</text><text x="1030" y="14.5">773</text><text x="1064" y="14.5">663</text><text x="1098" y="14.5">967</text><text x="1132" y="14.5">322</text><text x="1166" y="14.5">1052</text><text x="1200" y="14.5">1354</text><text x="1243" y="14.5">1674</text></g>
</g>

<!-- ===== Heatmap e ===== -->
<g class="h">
<text x="823" y="784">amt</text><text x="864" y="784">glnB</text><text x="895" y="784">glnD</text><text x="935" y="784">ut</text><text x="976" y="784">ureC</text><text x="1007" y="784">ureB</text><text x="1038" y="784">ureA</text><text x="1070" y="784">ureD</text><text x="1101" y="784">ureF</text><text x="1133" y="784">ureG</text><text x="1164" y="784">ureJ</text><text x="1205" y="784">SAP</text>
</g>
<g class="rl"><text x="804" y="803.5">AU-T1</text><text x="804" y="825.5">AU-T2</text><text x="804" y="847.5">AU-T3</text></g>
<g transform="translate(0,788.5)">
<rect class="c" x="808" width="30" height="21" fill-opacity=".29"/><rect class="c" x="849" width="30" height="21" fill-opacity=".505"/><rect class="c" x="880" width="30" height="21" fill-opacity=".46"/><rect class="c" x="920" width="30" height="21" fill-opacity=".58"/><rect class="c" x="961" width="30" height="21" fill-opacity=".6"/><rect class="c" x="992" width="30" height="21" fill-opacity=".495"/><rect class="c" x="1023" width="30" height="21" fill-opacity=".48"/><rect class="c" x="1055" width="30" height="21" fill-opacity=".525"/><rect class="c" x="1086" width="30" height="21" fill-opacity=".47"/><rect class="c" x="1118" width="30" height="21" fill-opacity=".63"/><rect class="c" x="1149" width="30" height="21" fill-opacity=".62"/><rect class="c" x="1190" width="30" height="21" fill-opacity=".53"/>
<g class="v"><text x="823" y="15">24</text><text x="864" y="15">270</text><text x="895" y="15">164</text><text x="935" y="15">619</text><text x="976" y="15">742</text><text x="1007" y="15">242</text><text x="1038" y="15">209</text><text x="1070" y="15">336</text><text x="1101" y="15">177</text><text x="1133" y="15">1029</text><text x="1164" y="15">986</text><text x="1205" y="15">361</text></g>
</g>
<g transform="translate(0,810.5)">
<rect class="c" x="808" width="30" height="21" fill-opacity=".27"/><rect class="c" x="849" width="30" height="21" fill-opacity=".51"/><rect class="c" x="880" width="30" height="21" fill-opacity=".47"/><rect class="c" x="920" width="30" height="21" fill-opacity=".58"/><rect class="c" x="961" width="30" height="21" fill-opacity=".59"/><rect class="c" x="992" width="30" height="21" fill-opacity=".495"/><rect class="c" x="1023" width="30" height="21" fill-opacity=".48"/><rect class="c" x="1055" width="30" height="21" fill-opacity=".52"/><rect class="c" x="1086" width="30" height="21" fill-opacity=".45"/><rect class="c" x="1118" width="30" height="21" fill-opacity=".63"/><rect class="c" x="1149" width="30" height="21" fill-opacity=".62"/><rect class="c" x="1190" width="30" height="21" fill-opacity=".53"/>
<g class="v"><text x="823" y="15">20</text><text x="864" y="15">275</text><text x="895" y="15">175</text><text x="935" y="15">598</text><text x="976" y="15">700</text><text x="1007" y="15">243</text><text x="1038" y="15">206</text><text x="1070" y="15">305</text><text x="1101" y="15">151</text><text x="1133" y="15">1041</text><text x="1164" y="15">946</text><text x="1205" y="15">369</text></g>
</g>
<g transform="translate(0,832.5)">
<rect class="c" x="808" width="30" height="21" fill-opacity=".33"/><rect class="c" x="849" width="30" height="21" fill-opacity=".51"/><rect class="c" x="880" width="30" height="21" fill-opacity=".46"/><rect class="c" x="920" width="30" height="21" fill-opacity=".6"/><rect class="c" x="961" width="30" height="21" fill-opacity=".61"/><rect class="c" x="992" width="30" height="21" fill-opacity=".51"/><rect class="c" x="1023" width="30" height="21" fill-opacity=".5"/><rect class="c" x="1055" width="30" height="21" fill-opacity=".54"/><rect class="c" x="1086" width="30" height="21" fill-opacity=".47"/><rect class="c" x="1118" width="30" height="21" fill-opacity=".645"/><rect class="c" x="1149" width="30" height="21" fill-opacity=".635"/><rect class="c" x="1190" width="30" height="21" fill-opacity=".54"/>
<g class="v"><text x="823" y="15">37</text><text x="864" y="15">293</text><text x="895" y="15">171</text><text x="935" y="15">744</text><text x="976" y="15">868</text><text x="1007" y="15">281</text><text x="1038" y="15">250</text><text x="1070" y="15">388</text><text x="1101" y="15">175</text><text x="1133" y="15">1278</text><text x="1164" y="15">1143</text><text x="1205" y="15">398</text></g>
</g>

<!-- ===== Colorbar ===== -->
<text x="1028" y="914" class="tm" style="font-size:18px;font-weight:bold;fill:#111">log<tspan dy="5" font-size="12">2</tspan><tspan dy="-5">TPM</tspan></text>
<rect x="981" y="925" width="95" height="20" fill="url(#cb)" stroke="#aaa" stroke-width="1"/>
<text x="969" y="942" class="tm" style="font-size:18px;fill:#111">0</text>
<text x="1076" y="942" style="font-size:18px;fill:#111">16</text>
</svg>
</body></html>
